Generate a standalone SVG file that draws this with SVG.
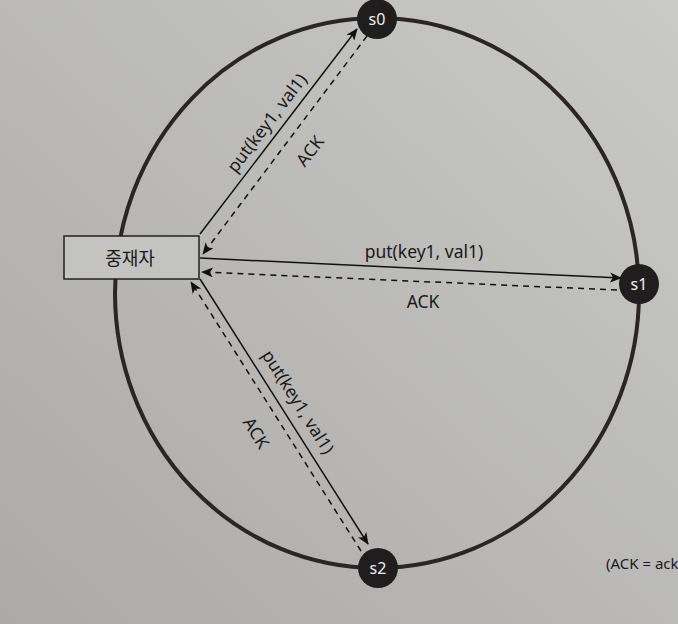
<svg xmlns="http://www.w3.org/2000/svg" width="678" height="624" viewBox="0 0 678 624">
  <defs>
    <linearGradient id="bg" x1="1" y1="0" x2="0" y2="1">
      <stop offset="0" stop-color="#c9c9c7"/>
      <stop offset="1" stop-color="#abaaa8"/>
    </linearGradient>
    <marker id="ah" viewBox="0 0 12 10" refX="11" refY="5" markerWidth="12" markerHeight="10" markerUnits="userSpaceOnUse" orient="auto">
      <path d="M0,0 L12,5 L0,10 L3,5 z" fill="#111"/>
    </marker>
    <style>
      .lbl { font-family: "Noto Sans", "Noto Sans CJK KR", sans-serif; font-size: 17.5px; fill: #1a1a1a; text-anchor: middle; }
      .node text { font-family: "Noto Sans", sans-serif; font-size: 16px; fill: #eeeeee; text-anchor: middle; }
      .node circle { fill: #1f1d1d; }
      .solid { stroke: #111; stroke-width: 1.5; fill: none; marker-end: url(#ah); }
      .dash { stroke: #111; stroke-width: 1.5; fill: none; stroke-dasharray: 6 5; marker-end: url(#ah); }
    </style>
  </defs>
  <rect width="678" height="624" fill="url(#bg)"/>
  <g id="ring">
    <ellipse cx="377" cy="293" rx="262" ry="275" fill="none" stroke="#2a2626" stroke-width="4"/>
  </g>
  <g id="mediator">
    <rect x="64" y="236" width="135" height="43" fill="#c3c3c1" stroke="#222" stroke-width="1.5"/>
    <text class="lbl" x="130" y="265" style="font-size:18px">중재자</text>
  </g>
  <g id="s0" class="node">
    <circle cx="377" cy="19" r="20"/>
    <text x="377" y="25">s0</text>
  </g>
  <g id="s1" class="node">
    <circle cx="639" cy="284" r="20"/>
    <text x="639" y="290">s1</text>
  </g>
  <g id="s2" class="node">
    <circle cx="378" cy="568" r="20"/>
    <text x="378" y="574">s2</text>
  </g>
  <g id="connectors">
    <line class="solid" x1="200" y1="234" x2="357" y2="29"/>
    <line class="dash" x1="367" y1="36" x2="203" y2="254"/>
    <line class="solid" x1="200" y1="258" x2="621" y2="278"/>
    <line class="dash" x1="617" y1="290" x2="202" y2="272"/>
    <line class="solid" x1="200" y1="279" x2="368" y2="544"/>
    <line class="dash" x1="361" y1="551" x2="191" y2="282"/>
  </g>
  <g id="labels">
    <text class="lbl" transform="translate(267,123) rotate(-52.5)" y="6">put(key1, val1)</text>
    <text class="lbl" transform="translate(310,151) rotate(-52.5)" y="6">ACK</text>
    <text class="lbl" x="424" y="258">put(key1, val1)</text>
    <text class="lbl" x="423" y="308">ACK</text>
    <text class="lbl" transform="translate(298,402) rotate(57.8)" y="6">put(key1, val1)</text>
    <text class="lbl" transform="translate(256,433) rotate(57.8)" y="6">ACK</text>
    <text class="lbl" x="606" y="569" style="text-anchor:start;font-size:15px">(ACK = ack</text>
  </g>
</svg>
